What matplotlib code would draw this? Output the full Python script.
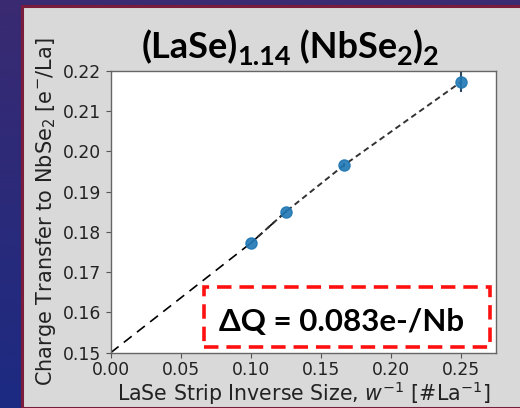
import numpy as np
import matplotlib
matplotlib.use("Agg")
import matplotlib.pyplot as plt
from matplotlib.patches import Rectangle

# data
x_inv = [0.100, 0.125, 0.1667, 0.250]
charge = [0.1772, 0.1850, 0.1966, 0.2172]
charge_err = [0.0003, 0.0003, 0.0004, 0.0026]
extrap_x = [0.0, 0.100, 0.125]
extrap_y = [0.150, 0.1772, 0.1850]
xticks = [0.00, 0.05, 0.10, 0.15, 0.20, 0.25]
yticks = [0.15, 0.16, 0.17, 0.18, 0.19, 0.20, 0.21, 0.22]
title_parts = [("(LaSe)", False), ("1.14", True), (" (NbSe", False), ("2", True),
               (")", False), ("2", True)]
annot = "ΔQ = 0.083e-/Nb"

W, H = 520, 408
fig = plt.figure(figsize=(W / 100, H / 100), dpi=100)

# background gradient
bg = fig.add_axes([0, 0, 1, 1])
bg.set_axis_off()
yy, xx = np.mgrid[0:1:200j, 0:1:200j]
top = np.array([0x3a, 0x2a, 0x72]) / 255
bot = np.array([0x1c, 0x2a, 0x82]) / 255
img = top[None, None, :] * (1 - yy[..., None]) + bot[None, None, :] * yy[..., None]
bg.imshow(img, extent=[0, 1, 0, 1], aspect="auto", origin="upper")
bg.set_xlim(0, 1)
bg.set_ylim(0, 1)
px0 = 22 / W
bg.add_patch(Rectangle((px0, 0), 1 - px0 + 0.01, 1 - 6 / H, facecolor="#d9d9d9",
                       edgecolor="#7a1c3c", linewidth=2.2, transform=bg.transAxes))

ax = fig.add_axes([110.7 / W, 1 - 352.7 / H, (495.7 - 110.7) / W, (352.7 - 70.7) / H])
ax.set_facecolor("white")
ax.plot(extrap_x, extrap_y, color="black", linestyle=(0, (6, 4)), linewidth=1.2, zorder=2)
ax.plot(x_inv, charge, color="#333333", linestyle=(0, (3, 2)), linewidth=1.4, zorder=2)
ax.errorbar(x_inv, charge, yerr=charge_err, fmt="o", color="#1f77b4", ms=8,
            ecolor="#1a3550", elinewidth=1.5, alpha=0.9, zorder=3)
ax.set_xlim(0, 0.2748)
ax.set_ylim(0.15, 0.22)
ax.set_xticks(xticks)
ax.set_yticks(yticks)
ax.set_xticklabels([f"{v:.2f}" for v in xticks])
ax.set_yticklabels([f"{v:.2f}" for v in yticks])
ax.tick_params(labelsize=12.3, length=3.5, width=0.8, colors="#555555", labelcolor="#222222")
ax.tick_params(axis="x", pad=2.5)
for s in ax.spines.values():
    s.set_color("#666666")
    s.set_linewidth(1.0)
ax.set_xlabel(r"LaSe Strip Inverse Size, $w^{-1}$ [#La$^{-1}$]", fontsize=14.8,
              color="#222222", labelpad=0)
ax.set_ylabel(r"Charge Transfer to NbSe$_2$ [e$^{-}$/La]", fontsize=15.0,
              color="#222222", labelpad=3)

# title built from pieces
renderer = fig.canvas.get_renderer()
big, small = 26, 19.5
base_y = 1 - 58 / H
xcur = 143
texts = []
for s, sub in title_parts:
    t = fig.text(xcur / W, base_y - (7 / H if sub else 0), s, fontsize=small if sub else big,
                 fontweight="bold", family=["Lato", "DejaVu Sans"], ha="left",
                 va="baseline", color="black")
    bb = t.get_window_extent(renderer)
    xcur += bb.width
    texts.append(t)
shift = (290 - (143 + xcur) / 2) / W
for t in texts:
    x0, y0 = t.get_position()
    t.set_position((x0 + shift, y0))

# red dashed box
ax.add_patch(Rectangle((204 / W, 1 - 347 / H), (490 - 204) / W, (347 - 287) / H,
                       transform=fig.transFigure, fill=False, edgecolor="#ff1010",
                       linewidth=2.6, linestyle=(0, (4, 2.2)), zorder=5, clip_on=False))
fig.text(342 / W, 1 - 322 / H, annot, fontsize=22.5, fontweight="bold",
         family=["Lato", "DejaVu Sans"], ha="center", va="center", color="black")

fig.savefig("out.png", dpi=100)
